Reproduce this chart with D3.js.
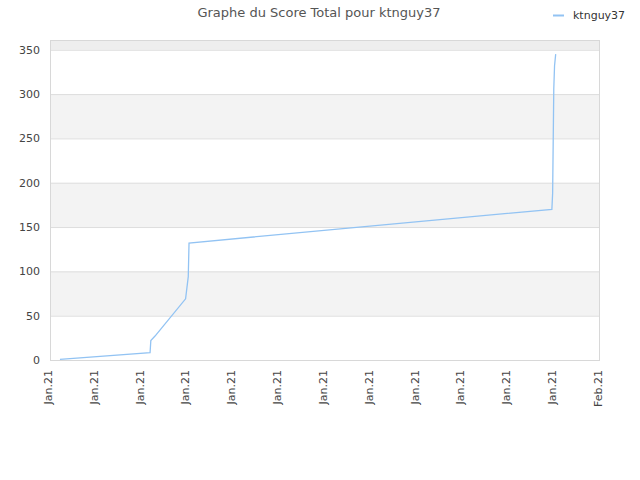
<!DOCTYPE html>
<html>
<head>
<meta charset="utf-8">
<script src="https://cdn.jsdelivr.net/npm/d3@7"></script>
<style>
body { margin: 0; background: #fff; }
text { font-family: "DejaVu Sans", Verdana, sans-serif; }
</style>
</head>
<body>
<svg width="640" height="480"></svg>
<script>
// score history, times are on Jan 31 2021 (HH:MM)
var times = ["00:26", "04:22", "04:24", "04:35", "05:55", "06:02", "06:04", "21:54", "21:56", "21:59", "22:01", "22:04"];
var scores = [0.8, 8.3, 22, 27, 69, 94, 132, 170, 188, 306, 332, 345];
var yTicks = [0, 50, 100, 150, 200, 250, 300, 350];
var playerName = "ktnguy37";

var svg = d3.select("svg");
var margin = {left: 50, right: 40, top: 40, bottom: 120};
var w = 640 - margin.left - margin.right;
var h = 480 - margin.top - margin.bottom;

var parse = d3.timeParse("%Y-%m-%d %H:%M");
var data = [];
for (var i = 0; i < times.length; i++) {
    data.push({t: parse("2021-01-31 " + times[i]), v: scores[i]});
}

var start = new Date(2021, 0, 31, 0, 0);
var end = new Date(2021, 1, 1, 0, 0);
var x = d3.scaleTime().domain([start, end]).range([0, w]);
var y = d3.scaleLinear().domain([0, 361]).range([h, 0]);

var g = svg.append("g").attr("transform", "translate(" + margin.left + "," + margin.top + ")");

// alternating bands
var bands = yTicks.concat([361]);
for (var i = 0; i < bands.length - 1; i++) {
    var fill = i % 2 == 0 ? "#ffffff" : "#f3f3f3";
    if (i == bands.length - 2) fill = "#eeeeee";
    g.append("rect")
        .attr("x", 0)
        .attr("y", y(bands[i + 1]))
        .attr("width", w)
        .attr("height", y(bands[i]) - y(bands[i + 1]))
        .attr("fill", fill);
}

// grid lines
g.selectAll(".grid").data(yTicks.slice(1)).enter().append("line")
    .attr("x1", 0).attr("x2", w)
    .attr("y1", function(d){ return y(d) + 0.5; })
    .attr("y2", function(d){ return y(d) + 0.5; })
    .attr("stroke", "#dddddd");

// frame
g.append("rect")
    .attr("x", 0.5).attr("y", 0.5)
    .attr("width", w - 1).attr("height", h)
    .attr("fill", "none")
    .attr("stroke", "#d8d8d8");

// y axis labels
var yAxis = d3.axisLeft(y).tickValues(yTicks).tickSize(0).tickPadding(10);
var ya = g.append("g").call(yAxis);
ya.select(".domain").remove();
ya.selectAll("text").attr("font-size", 11).attr("fill", "#444")
    .style("font-family", "\"DejaVu Sans\", sans-serif");

// x axis labels
var xTicks = d3.range(13).map(function(k){ return new Date(start.getTime() + k * 2 * 3600 * 1000); });
var fmt = d3.timeFormat("%b.%y");
var xa = g.append("g").attr("transform", "translate(0," + h + ")");
xa.selectAll("text").data(xTicks).enter().append("text")
    .attr("transform", function(d){ return "translate(" + (x(d) - 2) + ",10) rotate(-90)"; })
    .attr("text-anchor", "end")
    .attr("dy", "0.35em")
    .attr("font-size", 11)
    .attr("fill", "#444")
    .text(function(d){ return fmt(d); });

// score line
var line = d3.line()
    .x(function(d){ return x(d.t); })
    .y(function(d){ return y(d.v); });
g.append("path")
    .datum(data)
    .attr("d", line)
    .attr("fill", "none")
    .attr("stroke", "#92c3f3")
    .attr("stroke-width", 1.3);

// title
svg.append("text")
    .attr("x", 319).attr("y", 17)
    .attr("text-anchor", "middle")
    .attr("font-size", 13)
    .attr("fill", "#555")
    .text("Graphe du Score Total pour " + playerName);

// legend
svg.append("line")
    .attr("x1", 553).attr("x2", 564)
    .attr("y1", 15.5).attr("y2", 15.5)
    .attr("stroke", "#92c3f3").attr("stroke-width", 2);
svg.append("text")
    .attr("x", 573).attr("y", 19)
    .attr("font-size", 11)
    .attr("fill", "#333")
    .text(playerName);
</script>
</body>
</html>
